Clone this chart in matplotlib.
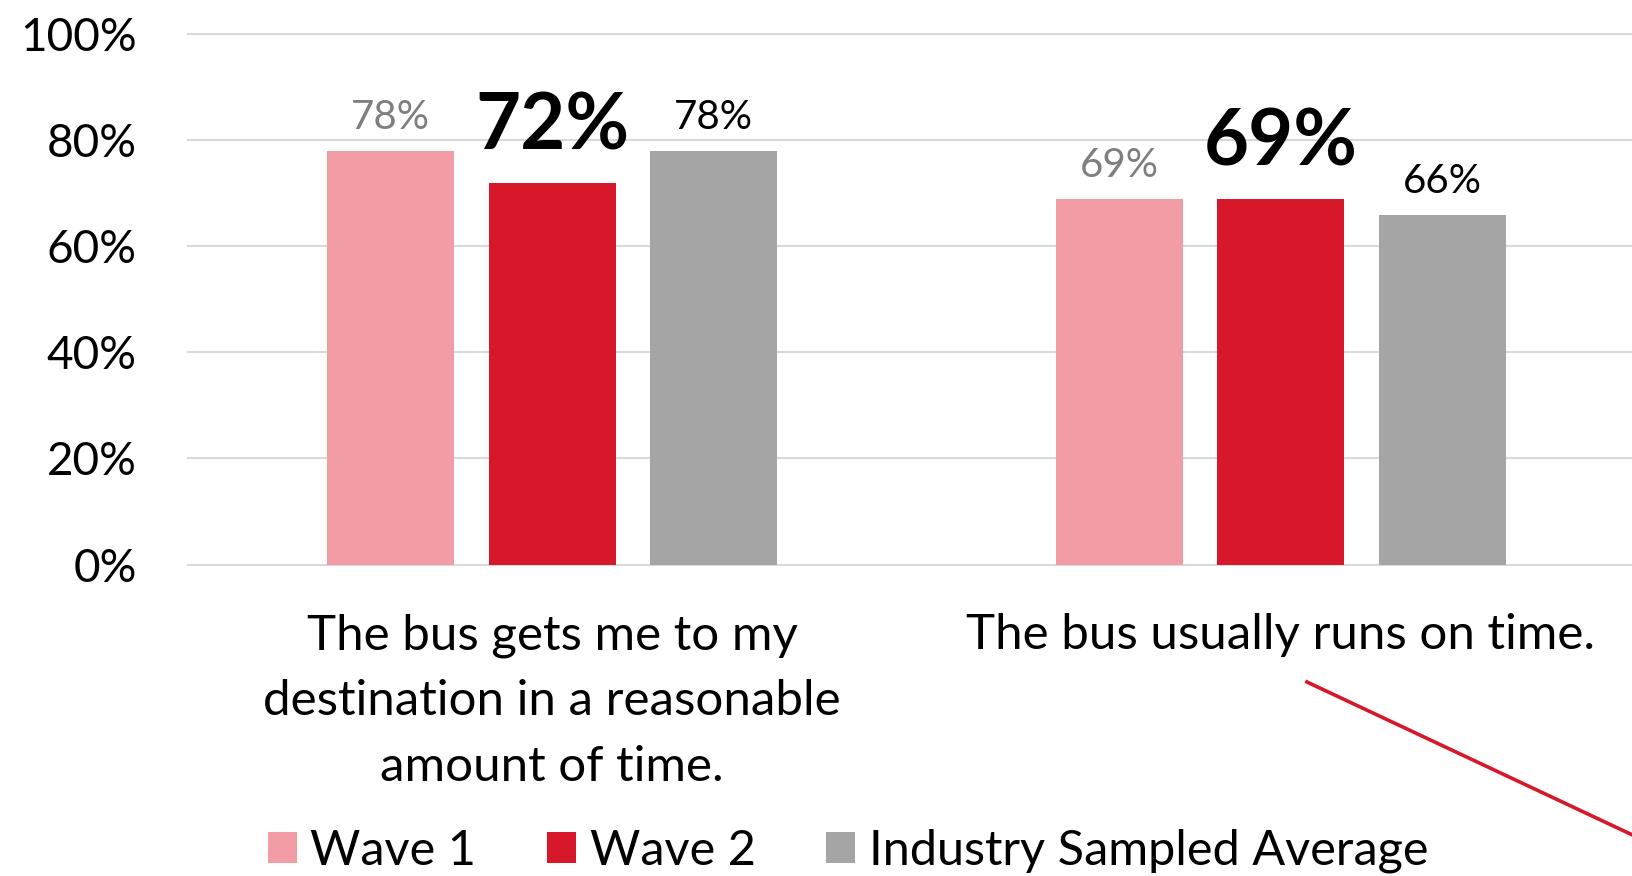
import matplotlib
matplotlib.use("Agg")
import matplotlib.pyplot as plt
from matplotlib.patches import Patch
from matplotlib.lines import Line2D
import numpy as np

plt.rcParams['font.family'] = ['Lato', 'DejaVu Sans']

categories = ["The bus gets me to my\ndestination in a reasonable\namount of time.",
              "The bus usually runs on time."]
series_names = ["Wave 1", "Wave 2", "Industry Sampled Average"]
wave1 = [78, 69]
wave2 = [72, 69]
industry = [78, 66]
yticks = [0, 20, 40, 60, 80, 100]
ytick_labels = ["0%", "20%", "40%", "60%", "80%", "100%"]

colors = ["#f29ca6", "#d7182a", "#a5a5a5"]
label_colors = ["#7f7f7f", "black", "black"]
label_weights = ["normal", "bold", "normal"]
label_sizes = [29, 56, 29]

W, H = 1633, 876
fig = plt.figure(figsize=(W / 100, H / 100), dpi=100)
ax = fig.add_axes([188 / W, (H - 564.5) / H, (1645 - 188) / W, (564.5 - 34.4) / H])

x = np.arange(len(categories))
width = 0.1743
step = 0.2217
all_series = [wave1, wave2, industry]
for i, vals in enumerate(all_series):
    xs = x + (i - 1) * step
    ax.bar(xs, vals, width=width, color=colors[i], zorder=3, label=series_names[i])
    for xi, v in zip(xs, vals):
        off_px = 33 if label_weights[i] == "bold" else 22
        ax.annotate(f"{v}%", xy=(xi, v), xytext=(0, off_px * 0.72),
                    textcoords="offset points", ha="center", va="baseline",
                    fontsize=label_sizes[i], fontweight=label_weights[i],
                    color=label_colors[i])

ax.set_xlim(-0.5, 1.5)
ax.set_ylim(0, 100)
ax.set_yticks(yticks)
ax.set_yticklabels(ytick_labels, fontsize=33)
ax.set_xticks(x)
ax.set_xticklabels(categories, fontsize=35.5, linespacing=1.6, va="top")
ax.tick_params(axis="y", length=0, pad=37)
ax.tick_params(axis="x", length=0, pad=35)
ax.yaxis.grid(True, color="#d9d9d9", linewidth=1.5)
for gl in ax.get_ygridlines():
    gl.set_clip_on(False)
ax.set_axisbelow(True)
for s in ax.spines.values():
    s.set_visible(False)

handles = [Patch(facecolor=c) for c in colors]
fig.legend(handles, series_names, loc="center", bbox_to_anchor=(848 / W, (H - 851) / H),
           ncol=3, frameon=False, fontsize=35, handlelength=0.6, handleheight=0.6,
           handletextpad=0.28, columnspacing=1.45, borderpad=0, borderaxespad=0)

# red connector line (decoration)
x0, y0 = 1307, 682
x1, y1 = 1700, 682 + (1700 - 1307) * 0.47
fig.add_artist(Line2D([x0 / W, x1 / W], [1 - y0 / H, 1 - y1 / H],
                      color="#d7182a", linewidth=2.6, transform=fig.transFigure))

fig.savefig("out.png", dpi=100)
